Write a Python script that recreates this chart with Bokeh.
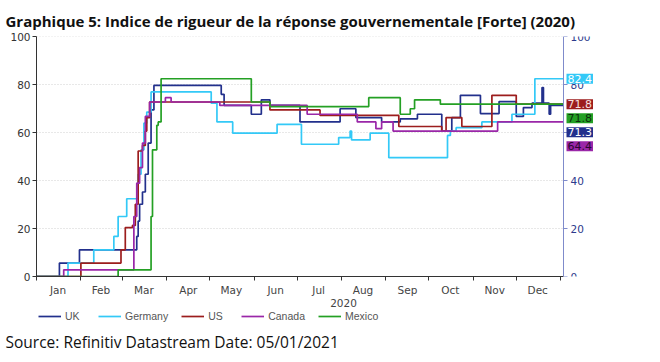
import pandas as pd
from bokeh.plotting import figure
from bokeh.layouts import column
from bokeh.models import FixedTicker, LinearAxis, Range1d, Legend, LegendItem, Label
from bokeh.embed import file_html
from bokeh.resources import INLINE

title_text = "Graphique 5: Indice de rigueur de la réponse gouvernementale [Forte] (2020)"
source_text = "Source: Refinitiv Datastream Date: 05/01/2021"
year_label = "2020"
month_labels = ["Jan", "Feb", "Mar", "Apr", "May", "Jun", "Jul", "Aug", "Sep", "Oct", "Nov", "Dec"]
y_ticks = [0, 20, 40, 60, 80, 100]

series_names = ["UK", "Germany", "US", "Canada", "Mexico"]
series_colors = ["#22308c", "#33c9f7", "#9c1d1d", "#9a27a8", "#24a024"]
badge_text_colors = ["#ffffff", "#ffffff", "#f6e0e0", "#2a0630", "#0b2f0b"]

uk_dates = ["2020-01-01", "2020-01-17", "2020-01-31", "2020-03-11", "2020-03-12", "2020-03-13",
            "2020-03-15", "2020-03-17", "2020-03-19", "2020-03-21", "2020-03-23", "2020-05-09",
            "2020-05-11", "2020-05-30", "2020-06-06", "2020-06-12", "2020-07-03", "2020-07-31",
            "2020-08-11", "2020-08-29", "2020-09-11", "2020-09-23", "2020-10-10", "2020-10-17",
            "2020-10-23", "2020-11-06", "2020-11-19", "2020-12-01", "2020-12-06", "2020-12-12",
            "2020-12-19", "2020-12-20", "2020-12-24", "2020-12-25", "2021-01-03"]
uk_values = [0, 5.6, 11.1, 16.7, 23.1, 30.1, 35.2, 42.6, 55.6, 69.4, 79.6, 75.9,
             71.3, 67.6, 73.6, 71.3, 64.4, 69.9, 66.2, 64.4, 65.7, 67.6, 60.6, 66.2,
             75.5, 67.9, 72.9, 66.7, 70.4, 72.2, 78.7, 72.2, 67.6, 71.3, 71.3]

germany_dates = ["2020-01-01", "2020-01-23", "2020-02-10", "2020-02-24", "2020-02-27", "2020-03-04",
                 "2020-03-12", "2020-03-14", "2020-03-16", "2020-03-18", "2020-03-21", "2020-05-02",
                 "2020-05-06", "2020-05-17", "2020-06-17", "2020-07-04", "2020-07-30", "2020-08-07",
                 "2020-08-08", "2020-08-21", "2020-09-03", "2020-10-14", "2020-10-16", "2020-10-20",
                 "2020-11-07", "2020-11-28", "2020-12-14", "2021-01-03"]
germany_values = [0, 5.6, 11.1, 16.7, 25.0, 32.4, 42.6, 52.8, 63.9, 68.5, 76.9, 72.2,
                  64.4, 59.7, 63.4, 55.1, 57.9, 60.6, 56.9, 59.7, 49.5, 58.8, 60.6, 62.0,
                  64.4, 67.6, 82.4, 82.4]

us_dates = ["2020-01-01", "2020-02-01", "2020-02-29", "2020-03-03", "2020-03-08", "2020-03-10",
            "2020-03-12", "2020-03-15", "2020-03-17", "2020-03-18", "2020-03-20", "2020-06-12",
            "2020-07-17", "2020-09-10", "2020-10-10", "2020-10-13", "2020-10-24", "2020-11-14",
            "2020-12-01", "2021-01-03"]
us_values = [0, 5.6, 11.1, 20.4, 21.3, 30.1, 52.3, 54.6, 60.6, 66.2, 72.7, 69.4,
             67.1, 62.5, 60.6, 66.2, 62.5, 75.5, 71.8, 71.8]

canada_dates = ["2020-01-01", "2020-01-20", "2020-03-09", "2020-03-11", "2020-03-13", "2020-03-15",
                "2020-03-17", "2020-03-20", "2020-03-31", "2020-04-04", "2020-05-08", "2020-07-08",
                "2020-08-12", "2020-08-25", "2020-08-29", "2020-09-06", "2020-11-18", "2021-01-03"]
canada_values = [0, 2.8, 25.0, 38.9, 45.4, 55.6, 66.7, 72.7, 74.5, 72.7, 71.3, 67.6,
                 64.4, 61.6, 64.4, 60.6, 64.4, 64.4]

mexico_dates = ["2020-01-01", "2020-02-27", "2020-03-21", "2020-03-22", "2020-03-25", "2020-03-26",
                "2020-03-28", "2020-05-30", "2020-06-12", "2020-08-20", "2020-09-11", "2020-09-18",
                "2020-09-21", "2020-10-09", "2021-01-03"]
mexico_values = [0, 2.8, 25.0, 52.8, 63.0, 64.4, 82.4, 72.7, 70.8, 74.5, 67.6, 69.9,
                 73.6, 71.8, 71.8]

all_dates = [uk_dates, germany_dates, us_dates, canada_dates, mexico_dates]
all_values = [uk_values, germany_values, us_values, canada_values, mexico_values]

origin = pd.Timestamp("2020-01-01")


def to_days(dates):
    return [(pd.Timestamp(d) - origin).days for d in dates]


month_starts = to_days(pd.date_range("2020-01-01", "2021-01-01", freq="MS"))
month_mids = [(a + b) // 2 for a, b in zip(month_starts[:-1], month_starts[1:])]

# ---- layout numbers (pixels) ----
W, H = 660, 362
B_L, B_R, B_T, B_B = 36, 10, 36, 34
FH = 240
H1 = B_T + FH + B_B
H2 = H - H1
FW = W - B_L - B_R
X_END = 368                      # right end of the time axis (days from 1 Jan 2020)
CHART_W = 527                    # pixel width of the time axis
x_range_end = X_END * FW / CHART_W

p = figure(width=W, height=H1, x_range=Range1d(0, x_range_end), y_range=Range1d(0, 100),
           output_backend="svg", toolbar_location=None,
           min_border_left=B_L, min_border_right=B_R, min_border_top=B_T, min_border_bottom=B_B)
p.outline_line_color = None
p.background_fill_color = "white"
p.border_fill_color = "white"

p.title.text = title_text
p.title.align = "left"
p.title.offset = -31
p.title.text_font = "Open Sans"
p.title.text_font_style = "bold"
p.title.text_font_size = "15px"
p.title.text_color = "#111111"
p.title.standoff = 12

# x axis
xa = p.xaxis[0]
xa.ticker = FixedTicker(ticks=month_mids, minor_ticks=month_starts)
xa.major_label_overrides = {m: lab for m, lab in zip(month_mids, month_labels)}
xa.bounds = (0, X_END)
xa.major_tick_line_color = None
xa.major_tick_out = 0
xa.major_tick_in = 0
xa.minor_tick_out = 4
xa.minor_tick_in = 0
xa.minor_tick_line_color = "#333333"
xa.axis_line_color = "#333333"
xa.major_label_text_font = "DejaVu Sans"
xa.major_label_text_font_size = "10.5px"
xa.major_label_text_color = "#444444"
xa.major_label_standoff = 3
xa.axis_label = year_label
xa.axis_label_text_font = "DejaVu Sans"
xa.axis_label_text_font_size = "10.5px"
xa.axis_label_text_font_style = "normal"
xa.axis_label_text_color = "#444444"
xa.axis_label_standoff = 0

# left y axis
ya = p.yaxis[0]
ya.ticker = FixedTicker(ticks=y_ticks)
ya.minor_tick_line_color = None
ya.major_tick_out = 4
ya.major_tick_in = 0
ya.axis_line_color = "#333333"
ya.major_tick_line_color = "#333333"
ya.major_label_text_font = "DejaVu Sans"
ya.major_label_text_font_size = "10.5px"
ya.major_label_text_color = "#333333"
ya.major_label_standoff = 2

# right y axis, drawn at the end of the time axis
p.extra_y_ranges = {"r": Range1d(0, 100)}
ra = LinearAxis(y_range_name="r", ticker=FixedTicker(ticks=y_ticks), fixed_location=X_END)
ra.minor_tick_line_color = None
ra.major_tick_out = 4
ra.major_tick_in = 0
ra.axis_line_color = "#7f8bcb"
ra.major_tick_line_color = "#7f8bcb"
ra.major_label_text_font = "DejaVu Sans"
ra.major_label_text_font_size = "10.5px"
ra.major_label_text_color = "#2d3a8c"
ra.major_label_standoff = 3
p.add_layout(ra, "right")

# dotted horizontal grid limited to the time axis
p.xgrid.visible = False
p.ygrid.visible = False
p.segment(x0=[0] * 5, x1=[X_END] * 5, y0=y_ticks[1:], y1=y_ticks[1:],
          line_color="#d0d0d0", line_dash="1 2", line_width=1)

for name, col, d, v in zip(series_names, series_colors, all_dates, all_values):
    p.step(x=to_days(d), y=v, mode="after", line_color=col, line_width=1.7)

# end-value badges, stacked to avoid overlap
px_per_unit = FH / 100.0
badge_h = 14
last_vals = [v[-1] for v in all_values]
order = sorted(range(len(series_names)), key=lambda i: -last_vals[i])
prev = None
for i in order:
    pos = last_vals[i] * px_per_unit
    if prev is not None and pos > prev - badge_h:
        pos = prev - badge_h
    prev = pos
    lab = Label(x=X_END, y=last_vals[i], x_offset=3, y_offset=pos - last_vals[i] * px_per_unit,
                text=f"{last_vals[i]:.1f}", text_font="DejaVu Sans", text_font_size="11px",
                text_color=badge_text_colors[i], text_align="left", text_baseline="middle",
                background_fill_color=series_colors[i], padding=1)
    p.add_layout(lab)

# ---- legend + source strip (frame is aligned with the chart frame above) ----
SRC_B = 34                        # space under the legend strip for the source line
p2 = figure(width=W, height=H2, x_range=Range1d(0, 1), y_range=Range1d(0, 1),
            output_backend="svg", toolbar_location=None,
            min_border_left=B_L, min_border_right=B_R, min_border_top=0, min_border_bottom=SRC_B,
            x_axis_location=None, y_axis_location=None, title_location="below")
p2.outline_line_color = None
p2.xgrid.visible = False
p2.ygrid.visible = False
p2.title.text = source_text
p2.title.align = "left"
p2.title.offset = -31
p2.title.standoff = 0
p2.title.text_font = "Open Sans"
p2.title.text_font_style = "normal"
p2.title.text_font_size = "15.5px"
p2.title.text_color = "#111111"

items = []
for name, col in zip(series_names, series_colors):
    # proxy line kept outside the visible strip; it only supplies the legend swatch
    r = p2.line(x=[-2, -1], y=[-2, -2], line_color=col, line_width=1.7)
    items.append(LegendItem(label=name, renderers=[r]))
legend = Legend(items=items, orientation="horizontal", location=(2, H2 - SRC_B - 12),
                border_line_color=None, background_fill_alpha=0,
                label_text_font="Liberation Sans", label_text_font_size="10.5px",
                label_text_color="#555555", glyph_width=23, glyph_height=10,
                label_height=12, spacing=13, label_standoff=4, padding=0, margin=0)
p2.add_layout(legend)

layout = column(p, p2, spacing=0)
open("out.html", "w").write(file_html(layout, INLINE))
